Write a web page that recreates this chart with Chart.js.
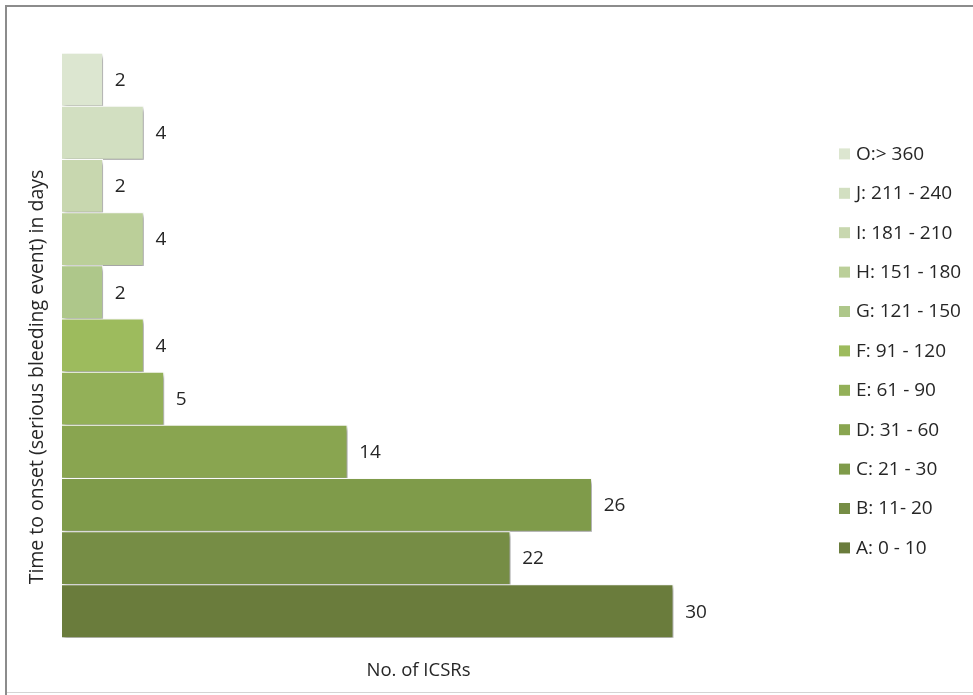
<!DOCTYPE html>
<html>
<head>
<meta charset="utf-8">
<title>Time to onset</title>
<script src="https://cdn.jsdelivr.net/npm/chart.js@4.4.1/dist/chart.umd.min.js"></script>
<style>
  html, body { margin: 0; padding: 0; background: #fff; }
  #wrap { position: relative; width: 973px; height: 695px; }
</style>
</head>
<body>
<div id="wrap"><canvas id="onsetChart" width="973" height="695"></canvas></div>
<script>
// Time-to-onset bands, top to bottom as drawn
const categories = ["O:> 360", "J: 211 - 240", "I: 181 - 210", "H: 151 - 180", "G: 121 - 150",
  "F: 91 - 120", "E: 61 - 90", "D: 31 - 60", "C: 21 - 30", "B: 11- 20", "A: 0 - 10"];
const counts = [2, 4, 2, 4, 2, 4, 5, 14, 26, 22, 30];
const barColors = ["#dce6d0", "#d2dfc1", "#c8d7af", "#bbcf99", "#aec78a", "#9dbb5d",
  "#93b058", "#89a550", "#7f9b4a", "#768d45", "#6a7c3c"];
const yTitle = "Time to onset (serious bleeding event) in days";

const FONT = "'Open Sans', sans-serif";
const TEXT = "#262626";

// white page with the grey frame
const framePlugin = {
  id: "frame",
  beforeDraw(chart) {
    const ctx = chart.ctx;
    ctx.save();
    ctx.fillStyle = "#fff";
    ctx.fillRect(0, 0, chart.width, chart.height);
    ctx.fillStyle = "#8c8c8c";
    ctx.fillRect(5, 5, chart.width - 5, 2);
    ctx.fillRect(5, 5, 2, chart.height - 5);
    ctx.fillStyle = "#d4d4d4";
    ctx.fillRect(7, 692, chart.width - 7, 1);
    ctx.restore();
  },
  afterDraw(chart) {
    const ctx = chart.ctx;
    // rotated category-axis title, sitting a little below the middle
    ctx.save();
    ctx.translate(37, 377);
    ctx.rotate(-Math.PI / 2);
    ctx.font = "19.5px " + FONT;
    ctx.fillStyle = TEXT;
    ctx.textAlign = "center";
    ctx.textBaseline = "middle";
    ctx.fillText(yTitle, 0, 0);
    ctx.restore();
    // the figure is cut just under the x axis title
    ctx.save();
    ctx.fillStyle = "#fff";
    ctx.fillRect(7, 678, chart.width - 7, 14);
    ctx.restore();
  }
};

// soft drop shadow under the bars
const shadowPlugin = {
  id: "barShadow",
  beforeDatasetDraw(chart) {
    const ctx = chart.ctx;
    ctx.save();
    ctx.shadowColor = "rgba(0,0,0,0.4)";
    ctx.shadowBlur = 4;
    ctx.shadowOffsetX = 2;
    ctx.shadowOffsetY = 3;
  },
  afterDatasetDraw(chart) {
    chart.ctx.restore();
  }
};

// value written just past the end of each bar
const valueLabels = {
  id: "valueLabels",
  afterDatasetsDraw(chart) {
    const ctx = chart.ctx;
    const meta = chart.getDatasetMeta(0);
    ctx.save();
    ctx.font = "19px " + FONT;
    ctx.fillStyle = TEXT;
    ctx.textAlign = "left";
    ctx.textBaseline = "middle";
    meta.data.forEach((bar, i) => {
      ctx.fillText(String(counts[i]), bar.x + 12, bar.y + 1);
    });
    ctx.restore();
  }
};

// legend column on the right, one swatch per band
const sideLegend = {
  id: "sideLegend",
  afterDraw(chart) {
    const ctx = chart.ctx;
    const area = chart.chartArea;
    const gap = 39.4;
    const first = (area.top + area.bottom) / 2 - (categories.length - 1) * gap / 2 + 5;
    ctx.save();
    ctx.font = "19px " + FONT;
    ctx.textBaseline = "middle";
    categories.forEach((label, i) => {
      const y = first + i * gap;
      ctx.fillStyle = barColors[i];
      ctx.fillRect(839, y - 5, 11, 11);
      ctx.fillStyle = TEXT;
      ctx.fillText(label, 856, y + 1);
    });
    ctx.restore();
  }
};

new Chart(document.getElementById("onsetChart"), {
  type: "bar",
  data: {
    labels: categories,
    datasets: [{
      data: counts,
      backgroundColor: barColors,
      borderColor: "#ffffff",
      borderWidth: 1,
      categoryPercentage: 1,
      barPercentage: 1
    }]
  },
  options: {
    indexAxis: "y",
    responsive: false,
    animation: false,
    layout: { padding: { left: 62, top: 53, right: 198, bottom: 9 } },
    plugins: {
      legend: { display: false },
      tooltip: { enabled: false }
    },
    scales: {
      x: {
        min: 0,
        max: 35,
        ticks: { display: false },
        grid: { display: false, drawTicks: false },
        border: { display: false },
        title: {
          display: true,
          text: "No. of ICSRs",
          color: TEXT,
          font: { family: FONT, size: 18.5 },
          padding: { top: 22, bottom: 4 }
        }
      },
      y: {
        display: false
      }
    }
  },
  plugins: [framePlugin, shadowPlugin, valueLabels, sideLegend]
});
</script>
</body>
</html>
